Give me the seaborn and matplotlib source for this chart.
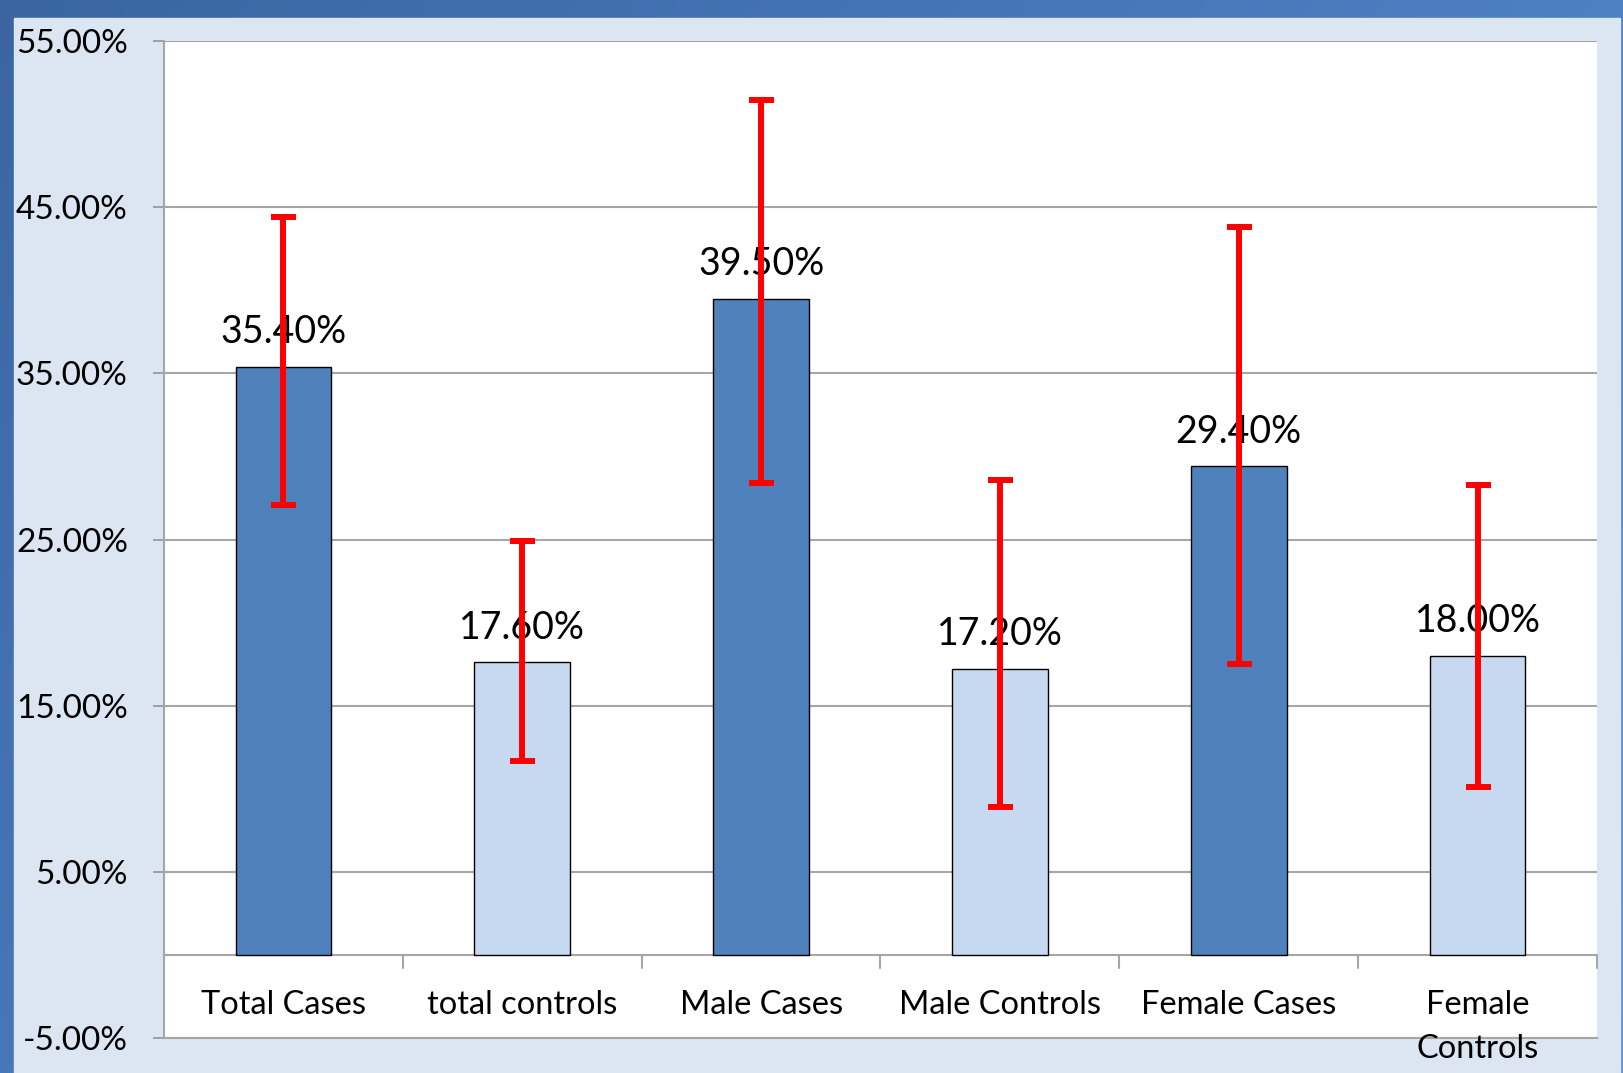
import numpy as np
import pandas as pd
import matplotlib
matplotlib.use("Agg")
import matplotlib.pyplot as plt
import seaborn as sns
from matplotlib.colors import LinearSegmentedColormap

# data (percent)
categories = ["Total Cases", "total controls", "Male Cases", "Male Controls", "Female Cases", "Female\nControls"]
values = [35.4, 17.6, 39.5, 17.2, 29.4, 18.0]
ci_low = [27.1, 11.7, 28.4, 8.9, 17.5, 10.1]
ci_high = [44.4, 24.9, 51.45, 28.6, 43.8, 28.3]
bar_colors = ["#4f81bd", "#c6d9f1", "#4f81bd", "#c6d9f1", "#4f81bd", "#c6d9f1"]
yticks = [-5, 5, 15, 25, 35, 45, 55]

df = pd.DataFrame({"group": categories, "pct": values})

sns.set_theme(style="white")
plt.rcParams["font.family"] = ["Lato", "DejaVu Sans"]

W, H = 1624, 1073
fig = plt.figure(figsize=(W / 100, H / 100), dpi=100)

# blue frame gradient + light panel
bg = fig.add_axes([0, 0, 1, 1], zorder=-10)
gx, gy = np.meshgrid(np.linspace(0, 1, 200), np.linspace(0, 1, 200))
grad = 0.6 * gx + 0.4 * gy
cmap = LinearSegmentedColormap.from_list("frame", ["#3a65a2", "#5a92da"])
bg.imshow(grad, cmap=cmap, aspect="auto", extent=[0, 1, 0, 1], origin="upper")
bg.add_patch(plt.Rectangle((14 / W, 0), (1620 - 14) / W, (H - 18) / H, color="#dce6f2", transform=bg.transAxes))
bg.set_xlim(0, 1)
bg.set_ylim(0, 1)
bg.axis("off")

ax = fig.add_axes([164 / W, (H - 1038) / H, (1597 - 164) / W, (1038 - 41) / H])
ax.set_facecolor("white")

sns.barplot(data=df, x="group", y="pct", hue="group", palette=bar_colors, legend=False,
            saturation=1, width=0.4, edgecolor="black", linewidth=1.0, ax=ax, zorder=3)

x = np.arange(len(categories))
vals = np.array(values)
yerr = [vals - np.array(ci_low), np.array(ci_high) - vals]
ax.errorbar(x, vals, yerr=yerr, fmt="none", ecolor="#ff0000", elinewidth=4.3,
            capsize=9, capthick=4.3, zorder=6)

for xi, v in zip(x, values):
    ax.annotate(f"{v:.2f}%", (xi, v), xytext=(0, 17), textcoords="offset points",
                ha="center", va="baseline", fontsize=27, color="black", zorder=5)

ax.set_ylim(-5, 55)
ax.set_xlim(-0.5, len(categories) - 0.5)
ax.set_yticks(yticks)
ax.set_yticklabels([f"{t:.2f}%" for t in yticks], fontsize=24, color="black")
ax.tick_params(axis="y", length=8, width=1.3, color="#9a9a9a", pad=18, left=True)
ax.set_xticks([])
ax.set_xlabel("")
ax.set_ylabel("")
ax.grid(axis="y", color="#a6a6a6", linewidth=1.5, zorder=0)
ax.set_axisbelow(True)

for s in ["top", "right"]:
    ax.spines[s].set_visible(False)
for s in ["left", "bottom"]:
    ax.spines[s].set_color("#a6a6a6")
    ax.spines[s].set_linewidth(1.5)

# category axis at zero with divider ticks
ax.axhline(0, color="#a6a6a6", linewidth=1.5, zorder=2)
for d in np.arange(0.5, len(categories), 1.0):
    ax.plot([d, d], [0, -0.8], color="#a6a6a6", linewidth=1.5, zorder=2, clip_on=False)

for xi, lab in zip(x, categories):
    ax.text(xi, -2.1, lab, ha="center", va="top", fontsize=23.5, color="black",
            linespacing=1.6, zorder=5, clip_on=False)

fig.savefig("out.png", dpi=100)
